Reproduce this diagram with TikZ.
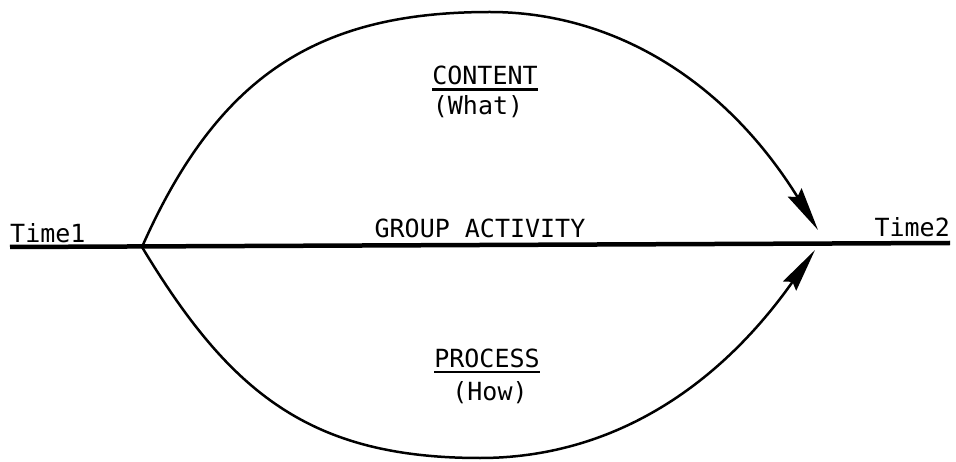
\documentclass[tikz,border=0pt]{standalone}
\usepackage{fontspec}
\setmonofont{DejaVu Sans Mono}
\usetikzlibrary{arrows.meta,positioning}
\newcommand{\ulined}[1]{\setbox0\hbox{#1}\rlap{\rule[-6pt]{\wd0}{2.5pt}}\box0}

\begin{document}
\begin{tikzpicture}[
  x=1pt, y=-1pt,
  font=\ttfamily\fontsize{25}{28}\selectfont,
  lbl/.style={inner sep=0pt, anchor=base},
  timeline/.style={line width=4.5pt},
  arc/.style={line width=2.5pt, -{Stealth[length=44pt,width=16pt,inset=5pt]}},
]
\useasboundingbox (0,0) rectangle (956,462);

% time axis
\coordinate (lft) at (10,247);
\coordinate (rgt) at (950,243);
\coordinate (fork) at (142,247);
\coordinate (peak) at (490,12);
\coordinate (valley) at (480,458);
\coordinate (topend) at (818,230);
\coordinate (botend) at (815,250);

\node[lbl, anchor=base west] (time1) at (10,243) {Time1};
\node[lbl, anchor=base east] (time2) at (950,237) {Time2};
\node[lbl] (activity) at (480,238) {GROUP ACTIVITY};
\draw[timeline] (lft) -- (rgt);

% upper and lower paths
\node[lbl] (content) at (485,85) {\ulined{CONTENT}};
\node[lbl] (what) at (478,115) {(What)};
\node[lbl] (process) at (487,367) {\ulined{PROCESS}};
\node[lbl] (how) at (490,400) {(How)};

\draw[arc] (fork) .. controls (219,73) and (320,12) .. (peak)
  .. controls (610,12) and (723,77) .. (topend);
\draw[arc] (fork) .. controls (230,393) and (310,458) .. (valley)
  .. controls (610,458) and (717,389) .. (botend);
\end{tikzpicture}
\end{document}
